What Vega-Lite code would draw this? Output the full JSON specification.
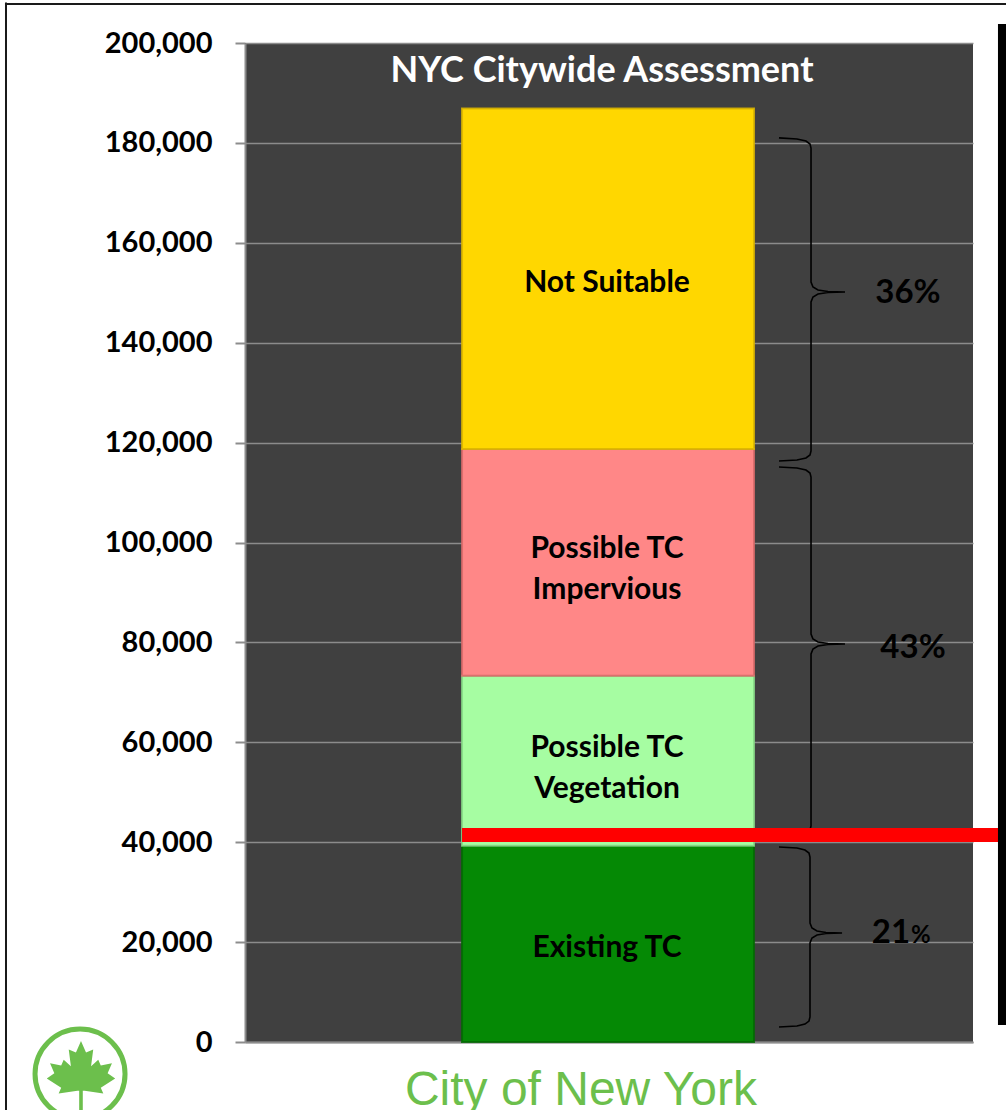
{
  "$schema": "https://vega.github.io/schema/vega-lite/v6.json",
  "width": 728,
  "height": 999,
  "autosize": {"type": "none"},
  "padding": {"left": 245, "top": 43, "right": 33, "bottom": 68},
  "background": "#ffffff",
  "config": {
    "view": {"fill": "#404040", "stroke": null},
    "font": "Lato",
    "axisY": {"tickCount": 10, "labelFont": "Lato", "labelFontSize": 29, "labelFontWeight": "bold", "labelColor": "#000000",
      "labelPadding": 23, "labelFlush": false, "tickSize": 10, "tickColor": "#8c8c8c", "tickWidth": 2,
      "domainColor": "#8c8c8c", "domainWidth": 2, "gridColor": "#8c8c8c", "gridWidth": 1.5, "grid": true},
    "axisX": {"labels": false, "ticks": false, "grid": false, "domainColor": "#8c8c8c", "domainWidth": 2}
  },
  "datasets": {
    "segments": [
      {"seg": "Existing TC", "label": "Existing TC", "lines": 1, "lo": 0, "hi": 39300},
      {"seg": "Possible TC Vegetation", "label": "Possible TC\nVegetation", "lines": 2, "lo": 39300, "hi": 73300},
      {"seg": "Possible TC Impervious", "label": "Possible TC\nImpervious", "lines": 2, "lo": 73300, "hi": 118700},
      {"seg": "Not Suitable", "label": "Not Suitable", "lines": 1, "lo": 118700, "hi": 186900}
    ],
    "pct": [
      {"t": "36%", "x": 91.07, "y": 149950},
      {"t": "43%", "x": 91.76, "y": 78880}
    ],
    "pct21": [
      {"t": "21", "s": "%", "x": 91.35, "y": 22020}
    ],
    "braces": [
      {"b": "t", "i": 1, "x": 73.35, "y": 181000},
      {"b": "t", "i": 2, "x": 75.82, "y": 180780},
      {"b": "t", "i": 3, "x": 77.06, "y": 180380},
      {"b": "t", "i": 4, "x": 77.61, "y": 179780},
      {"b": "t", "i": 5, "x": 77.75, "y": 178980},
      {"b": "t", "i": 6, "x": 77.75, "y": 152150},
      {"b": "t", "i": 7, "x": 78.02, "y": 151150},
      {"b": "t", "i": 8, "x": 78.71, "y": 150550},
      {"b": "t", "i": 9, "x": 80.08, "y": 150250},
      {"b": "t", "i": 10, "x": 82.42, "y": 150150},
      {"b": "t", "i": 11, "x": 80.08, "y": 150050},
      {"b": "t", "i": 12, "x": 78.71, "y": 149750},
      {"b": "t", "i": 13, "x": 78.02, "y": 149150},
      {"b": "t", "i": 14, "x": 77.75, "y": 148150},
      {"b": "t", "i": 15, "x": 77.75, "y": 118320},
      {"b": "t", "i": 16, "x": 77.61, "y": 117520},
      {"b": "t", "i": 17, "x": 77.06, "y": 116920},
      {"b": "t", "i": 18, "x": 75.82, "y": 116520},
      {"b": "t", "i": 19, "x": 73.35, "y": 116320},
      {"b": "m", "i": 1, "x": 73.35, "y": 115120},
      {"b": "m", "i": 2, "x": 75.82, "y": 114910},
      {"b": "m", "i": 3, "x": 77.06, "y": 114510},
      {"b": "m", "i": 4, "x": 77.61, "y": 113910},
      {"b": "m", "i": 5, "x": 77.75, "y": 113110},
      {"b": "m", "i": 6, "x": 77.75, "y": 81680},
      {"b": "m", "i": 7, "x": 78.02, "y": 80680},
      {"b": "m", "i": 8, "x": 78.71, "y": 80080},
      {"b": "m", "i": 9, "x": 80.08, "y": 79780},
      {"b": "m", "i": 10, "x": 82.42, "y": 79680},
      {"b": "m", "i": 11, "x": 80.08, "y": 79580},
      {"b": "m", "i": 12, "x": 78.71, "y": 79280},
      {"b": "m", "i": 13, "x": 78.02, "y": 78680},
      {"b": "m", "i": 14, "x": 77.75, "y": 77680},
      {"b": "m", "i": 15, "x": 77.75, "y": 43240},
      {"b": "m", "i": 16, "x": 77.61, "y": 42440},
      {"b": "m", "i": 17, "x": 77.06, "y": 41840},
      {"b": "m", "i": 18, "x": 75.82, "y": 41440},
      {"b": "m", "i": 19, "x": 73.35, "y": 41240},
      {"b": "b", "i": 1, "x": 73.35, "y": 39040},
      {"b": "b", "i": 2, "x": 75.82, "y": 38840},
      {"b": "b", "i": 3, "x": 76.92, "y": 38440},
      {"b": "b", "i": 4, "x": 77.47, "y": 37840},
      {"b": "b", "i": 5, "x": 77.61, "y": 37040},
      {"b": "b", "i": 6, "x": 77.61, "y": 23820},
      {"b": "b", "i": 7, "x": 77.88, "y": 22820},
      {"b": "b", "i": 8, "x": 78.57, "y": 22220},
      {"b": "b", "i": 9, "x": 79.81, "y": 21920},
      {"b": "b", "i": 10, "x": 82.01, "y": 21820},
      {"b": "b", "i": 11, "x": 79.81, "y": 21720},
      {"b": "b", "i": 12, "x": 78.57, "y": 21420},
      {"b": "b", "i": 13, "x": 77.88, "y": 20820},
      {"b": "b", "i": 14, "x": 77.61, "y": 19820},
      {"b": "b", "i": 15, "x": 77.61, "y": 5005},
      {"b": "b", "i": 16, "x": 77.47, "y": 4200},
      {"b": "b", "i": 17, "x": 76.92, "y": 3600},
      {"b": "b", "i": 18, "x": 75.82, "y": 3200},
      {"b": "b", "i": 19, "x": 73.35, "y": 3000}
    ]
  },
  "layer": [
    {
      "data": {"name": "segments"},
      "mark": {"type": "rect", "strokeWidth": 2, "strokeOpacity": 0.85},
      "encoding": {
        "x": {"datum": 29.81, "type": "quantitative", "title": null, "scale": {"domain": [0, 100], "nice": false, "zero": false}},
        "x2": {"datum": 69.92},
        "y": {"field": "hi", "type": "quantitative", "title": null, "scale": {"domain": [0, 200000], "nice": false, "zero": false}},
        "y2": {"field": "lo"},
        "color": {"field": "seg", "type": "nominal", "legend": null,
          "scale": {"domain": ["Existing TC", "Possible TC Vegetation", "Possible TC Impervious", "Not Suitable"],
            "range": ["#058905", "#a6fda2", "#ff8787", "#ffd700"]}},
        "stroke": {"field": "seg", "type": "nominal", "legend": null,
          "scale": {"domain": ["Existing TC", "Possible TC Vegetation", "Possible TC Impervious", "Not Suitable"],
            "range": ["#046a04", "#86d886", "#d86a6a", "#d9b400"]}}
      }
    },
    {
      "data": {"name": "segments"},
      "transform": [
        {"filter": {"field": "lines", "equal": 1}},
        {"fold": ["lo", "hi"], "as": ["edge", "val"]},
        {"aggregate": [{"op": "mean", "field": "val", "as": "mid"}], "groupby": ["label"]}
      ],
      "mark": {"type": "text", "fontSize": 30, "fontWeight": "bold", "color": "#000000", "align": "center", "baseline": "middle", "dy": 4},
      "encoding": {
        "x": {"datum": 49.73, "type": "quantitative", "title": null, "scale": {"domain": [0, 100]}},
        "y": {"field": "mid", "type": "quantitative", "title": null, "scale": {"domain": [0, 200000]}},
        "text": {"field": "label"}
      }
    },
    {
      "data": {"name": "segments"},
      "transform": [
        {"filter": {"field": "lines", "equal": 2}},
        {"fold": ["lo", "hi"], "as": ["edge", "val"]},
        {"aggregate": [{"op": "mean", "field": "val", "as": "mid"}], "groupby": ["label"]}
      ],
      "mark": {"type": "text", "fontSize": 30, "fontWeight": "bold", "color": "#000000", "lineBreak": "\n", "lineHeight": 41, "align": "center", "baseline": "middle", "dy": -13},
      "encoding": {
        "x": {"datum": 49.73, "type": "quantitative", "title": null, "scale": {"domain": [0, 100]}},
        "y": {"field": "mid", "type": "quantitative", "title": null, "scale": {"domain": [0, 200000]}},
        "text": {"field": "label"}
      }
    },
    {
      "data": {"values": [{"t": "NYC Citywide Assessment"}]},
      "mark": {"type": "text", "fontSize": 36, "fontWeight": "bold", "color": "#ffffff", "align": "center", "baseline": "middle"},
      "encoding": {
        "x": {"datum": 49.04, "type": "quantitative", "title": null, "scale": {"domain": [0, 100]}},
        "y": {"datum": 194400, "type": "quantitative", "title": null, "scale": {"domain": [0, 200000]}},
        "text": {"field": "t"}
      }
    },
    {
      "data": {"name": "braces"},
      "mark": {"type": "line", "color": "#000000", "strokeWidth": 1.6},
      "encoding": {
        "x": {"field": "x", "type": "quantitative", "title": null, "scale": {"domain": [0, 100]}},
        "y": {"field": "y", "type": "quantitative", "title": null, "scale": {"domain": [0, 200000]}},
        "detail": {"field": "b"},
        "order": {"field": "i"}
      }
    },
    {
      "data": {"name": "pct"},
      "mark": {"type": "text", "fontSize": 33, "fontWeight": "bold", "color": "#000000", "align": "center", "baseline": "middle"},
      "encoding": {
        "x": {"field": "x", "type": "quantitative", "title": null, "scale": {"domain": [0, 100]}},
        "y": {"field": "y", "type": "quantitative", "title": null, "scale": {"domain": [0, 200000]}},
        "text": {"field": "t"}
      }
    },
    {
      "data": {"name": "pct21"},
      "mark": {"type": "text", "fontSize": 33, "fontWeight": "bold", "color": "#000000", "align": "right", "baseline": "alphabetic", "dy": 11},
      "encoding": {
        "x": {"field": "x", "type": "quantitative", "title": null, "scale": {"domain": [0, 100]}},
        "y": {"field": "y", "type": "quantitative", "title": null, "scale": {"domain": [0, 200000]}},
        "text": {"field": "t"}
      }
    },
    {
      "data": {"name": "pct21"},
      "mark": {"type": "text", "fontSize": 24, "fontWeight": "bold", "color": "#000000", "align": "left", "baseline": "alphabetic", "dy": 11, "dx": 1},
      "encoding": {
        "x": {"field": "x", "type": "quantitative", "title": null, "scale": {"domain": [0, 100]}},
        "y": {"field": "y", "type": "quantitative", "title": null, "scale": {"domain": [0, 200000]}},
        "text": {"field": "s"}
      }
    },
    {
      "data": {"values": [{"v": 41440}]},
      "mark": {"type": "rule", "color": "#ff0000", "strokeWidth": 14},
      "encoding": {
        "x": {"datum": 29.81, "type": "quantitative", "title": null, "scale": {"domain": [0, 100]}},
        "x2": {"datum": 106},
        "y": {"field": "v", "type": "quantitative", "title": null, "scale": {"domain": [0, 200000]}}
      }
    },
    {
      "data": {"values": [{"k": 1}]},
      "mark": {"type": "rect", "color": "#000000"},
      "encoding": {
        "x": {"datum": 103.43, "type": "quantitative", "title": null, "scale": {"domain": [0, 100]}},
        "x2": {"datum": 106},
        "y": {"datum": 203800, "type": "quantitative", "title": null, "scale": {"domain": [0, 200000]}},
        "y2": {"datum": 3400}
      }
    },
    {
      "data": {"values": [{"k": 1}]},
      "mark": {"type": "rule", "color": "#1a1a1a", "strokeWidth": 2},
      "encoding": {
        "x": {"datum": -32.83, "type": "quantitative", "title": null, "scale": {"domain": [0, 100]}},
        "y": {"datum": 208100, "type": "quantitative", "title": null, "scale": {"domain": [0, 200000]}},
        "y2": {"datum": -14000}
      }
    },
    {
      "data": {"values": [{"k": 1}]},
      "mark": {"type": "rule", "color": "#1a1a1a", "strokeWidth": 2},
      "encoding": {
        "x": {"datum": -32.97, "type": "quantitative", "title": null, "scale": {"domain": [0, 100]}},
        "x2": {"datum": 106},
        "y": {"datum": 207800, "type": "quantitative", "title": null, "scale": {"domain": [0, 200000]}}
      }
    },
    {
      "data": {"values": [{"k": 1}]},
      "mark": {"type": "point", "shape": "circle", "size": 8100, "filled": false, "stroke": "#6cbf4c", "strokeWidth": 5, "opacity": 1},
      "encoding": {
        "x": {"datum": -22.66, "type": "quantitative", "title": null, "scale": {"domain": [0, 100]}},
        "y": {"datum": -6400, "type": "quantitative", "title": null, "scale": {"domain": [0, 200000]}}
      }
    },
    {
      "data": {"values": [{"k": 1}]},
      "mark": {"type": "point", "shape": "M0,-1 L0.14,-0.68 L0.34,-0.76 L0.28,-0.3 L0.48,-0.48 L0.55,-0.32 L0.86,-0.38 L0.74,-0.1 L0.95,0.04 L0.55,0.3 L0.62,0.46 L0.1,0.38 L0.05,0.38 L0.05,1 L-0.05,1 L-0.05,0.38 L-0.1,0.38 L-0.62,0.46 L-0.55,0.3 L-0.95,0.04 L-0.74,-0.1 L-0.86,-0.38 L-0.55,-0.32 L-0.48,-0.48 L-0.28,-0.3 L-0.34,-0.76 L-0.14,-0.68 Z", "size": 5184, "filled": true, "color": "#6cbf4c", "opacity": 1},
      "encoding": {
        "x": {"datum": -22.53, "type": "quantitative", "title": null, "scale": {"domain": [0, 100]}},
        "y": {"datum": -7000, "type": "quantitative", "title": null, "scale": {"domain": [0, 200000]}}
      }
    },
    {
      "data": {"values": [{"t": "City of New York"}]},
      "mark": {"type": "text", "font": "Liberation Sans", "fontSize": 48, "color": "#6cbf4c", "align": "center", "baseline": "alphabetic"},
      "encoding": {
        "x": {"datum": 46.15, "type": "quantitative", "title": null, "scale": {"domain": [0, 100]}},
        "y": {"datum": -12600, "type": "quantitative", "title": null, "scale": {"domain": [0, 200000]}},
        "text": {"field": "t"}
      }
    }
  ]
}
